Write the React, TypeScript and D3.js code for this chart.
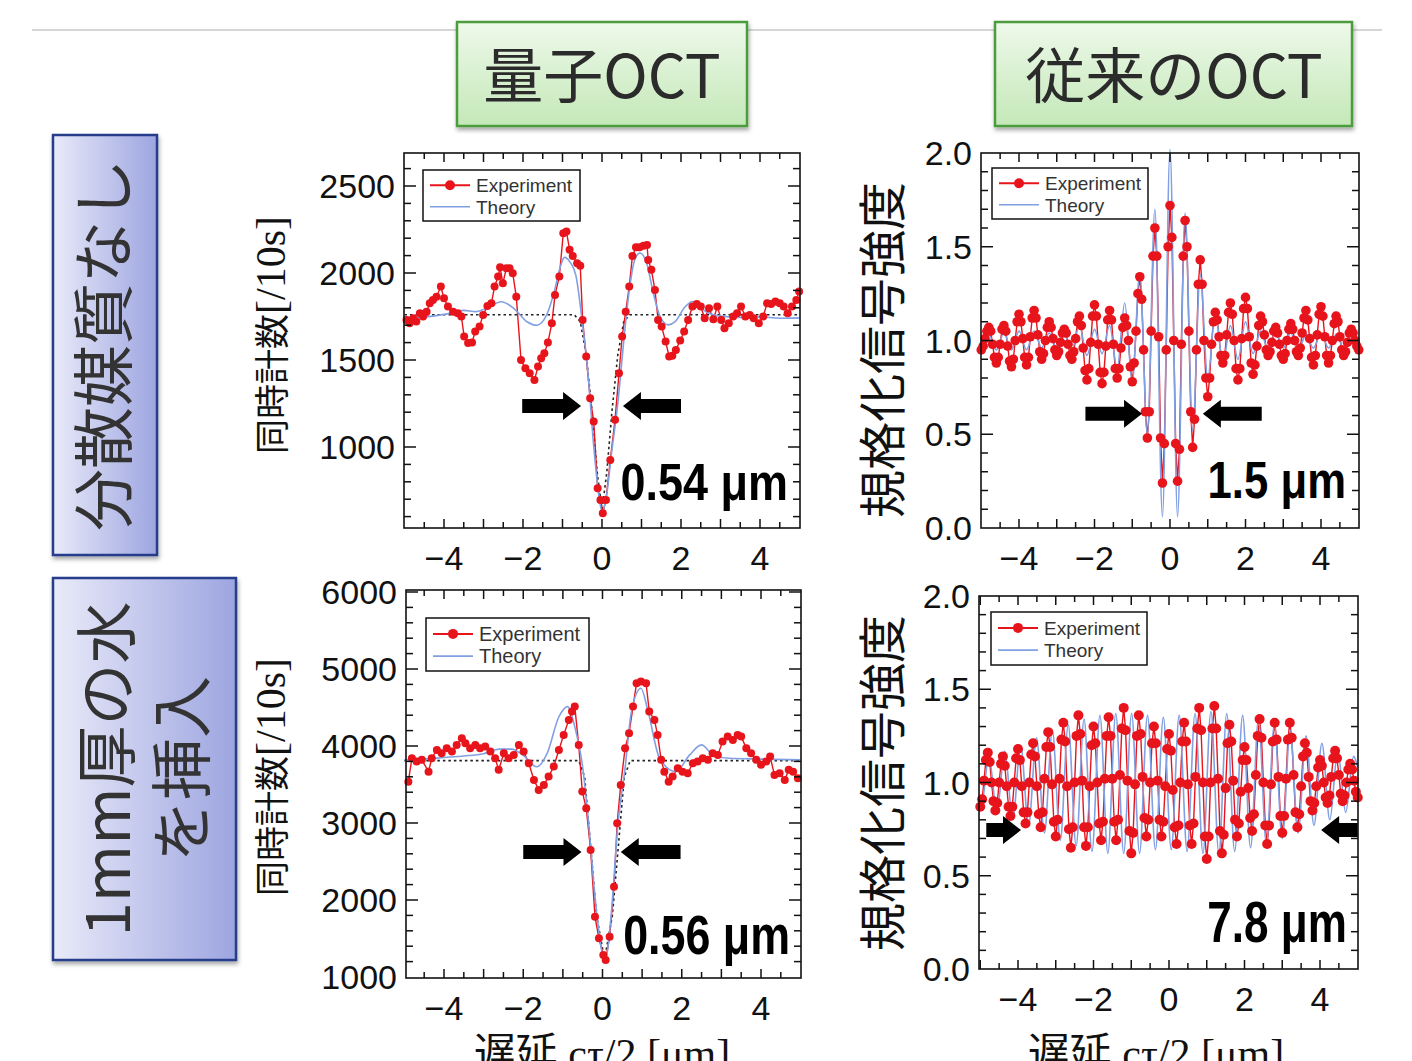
import * as d3 from 'd3';

type Pt = [number, number];

// ---------------- data ----------------
const delayTicks = [-4, -2, 0, 2, 4];
const countTicksDry = [1000, 1500, 2000, 2500];
const countTicksWater = [1000, 2000, 3000, 4000, 5000, 6000];
const normTicks = [0, 0.5, 1.0, 1.5, 2.0];
const fwhmLabels = ['0.54 μm', '1.5 μm', '0.56 μm', '7.8 μm'];
const columnTitles = ['量子OCT', '従来のOCT'];
const rowTitles = [['分散媒質なし'], ['1mm厚の水', 'を挿入']];
const legendLabels = ['Experiment', 'Theory'];

// quantum OCT, no dispersion (coincidence counts / 10 s)
const quantumExpDry: Pt[] = [
  [-4.95,1730],[-4.87,1711],[-4.78,1740],[-4.70,1721],[-4.61,1769],[-4.53,1750],[-4.44,1778],[-4.36,1826],
  [-4.28,1845],[-4.19,1864],[-4.08,1922],[-4.00,1855],[-3.90,1807],[-3.77,1778],[-3.65,1769],[-3.56,1750],
  [-3.49,1635],[-3.39,1597],[-3.29,1601],[-3.21,1664],[-3.10,1693],[-3.01,1759],[-2.90,1811],[-2.80,1826],
  [-2.72,1922],[-2.63,1980],[-2.58,2033],[-2.51,1941],[-2.42,2028],[-2.34,2028],[-2.26,1999],[-2.17,1864],
  [-2.05,1500],[-1.94,1452],[-1.83,1424],[-1.71,1385],[-1.62,1462],[-1.54,1510],[-1.46,1539],[-1.37,1600],
  [-1.27,1711],[-1.19,1874],[-1.08,1980],[-0.98,2229],[-0.90,2238],[-0.82,2133],[-0.74,2098],[-0.63,2056],
  [-0.55,2041],[-0.49,1730],[-0.40,1520],[-0.30,1280],[-0.21,1146],[-0.11,763],[-0.04,696],[0.02,619],
  [0.10,696],[0.21,926],[0.33,1156],[0.43,1424],[0.51,1635],[0.60,1778],[0.69,1922],[0.77,2098],
  [0.86,2148],[0.95,2148],[1.05,2156],[1.14,2161],[1.17,2075],[1.25,2018],[1.34,1903],[1.42,1730],
  [1.51,1692],[1.61,1606],[1.70,1520],[1.78,1524],[1.87,1558],[1.98,1612],[2.08,1664],[2.18,1730],
  [2.29,1807],[2.40,1822],[2.50,1807],[2.60,1740],[2.71,1797],[2.82,1734],[2.92,1807],[3.02,1730],
  [3.10,1682],[3.21,1711],[3.32,1750],[3.42,1769],[3.52,1807],[3.63,1750],[3.74,1759],[3.84,1740],
  [3.97,1711],[4.08,1750],[4.18,1826],[4.28,1822],[4.39,1836],[4.50,1826],[4.60,1807],[4.70,1769],
  [4.81,1807],[4.92,1845],[4.99,1893],
];
const quantumTheoryDry: Pt[] = [
  [-5,1745],[-4.5,1748],[-4,1762],[-3.5,1785],[-3.2,1778],[-2.9,1800],[-2.55,1835],[-2.2,1790],[-1.9,1720],
  [-1.65,1700],[-1.4,1760],[-1.2,1900],[-1.05,2040],[-0.95,2090],[-0.8,2060],[-0.66,1985],[-0.5,1720],
  [-0.37,1460],[-0.2,980],[-0.08,720],[0,630],[0.1,700],[0.25,980],[0.4,1250],[0.53,1560],[0.66,1845],
  [0.83,2077],[0.96,2115],[1.13,2057],[1.3,1885],[1.47,1750],[1.68,1702],[1.85,1720],[2.1,1805],[2.3,1836],
  [2.55,1790],[2.9,1755],[3.5,1745],[4,1748],[4.5,1740],[5,1742],
];
const quantumBaseDry: Pt[] = [
  [-5,1760],[-0.7,1760],[-0.55,1720],[-0.4,1530],[-0.25,1200],[-0.12,850],[0,640],
  [0.12,850],[0.25,1200],[0.4,1530],[0.55,1720],[0.7,1760],[5,1760],
];

// conventional OCT, no dispersion (normalised signal)
const classicExpDry: Pt[] = [
  [-5.00,0.95],[-4.95,0.97],[-4.90,1.01],[-4.85,1.05],[-4.80,1.07],[-4.75,1.05],[-4.70,0.98],[-4.65,0.91],
  [-4.60,0.88],[-4.55,0.91],[-4.50,0.98],[-4.45,1.06],[-4.40,1.08],[-4.35,1.05],[-4.30,0.97],[-4.25,0.89],
  [-4.20,0.86],[-4.15,0.90],[-4.10,1.00],[-4.05,1.10],[-4.00,1.14],[-3.95,1.10],[-3.90,1.01],[-3.85,0.91],
  [-3.80,0.87],[-3.75,0.91],[-3.70,1.02],[-3.65,1.12],[-3.60,1.16],[-3.55,1.12],[-3.50,1.03],[-3.45,0.94],
  [-3.40,0.90],[-3.35,0.93],[-3.30,1.00],[-3.25,1.07],[-3.20,1.10],[-3.15,1.07],[-3.10,1.01],[-3.05,0.95],
  [-3.00,0.92],[-2.95,0.94],[-2.90,0.99],[-2.85,1.04],[-2.80,1.06],[-2.75,1.04],[-2.70,0.98],[-2.65,0.92],
  [-2.60,0.90],[-2.55,0.94],[-2.50,1.01],[-2.45,1.10],[-2.40,1.13],[-2.35,1.08],[-2.30,0.96],[-2.25,0.84],
  [-2.20,0.79],[-2.15,0.85],[-2.10,0.99],[-2.05,1.13],[-2.00,1.19],[-1.95,1.13],[-1.90,0.98],[-1.85,0.83],
  [-1.80,0.77],[-1.75,0.83],[-1.70,0.97],[-1.65,1.11],[-1.60,1.16],[-1.55,1.11],[-1.50,0.98],[-1.45,0.85],
  [-1.40,0.80],[-1.35,0.85],[-1.30,0.96],[-1.25,1.07],[-1.20,1.12],[-1.15,1.08],[-1.10,1.00],[-1.05,0.86],
  [-1.00,0.78],[-0.95,0.88],[-0.90,1.05],[-0.85,1.25],[-0.80,1.34],[-0.75,1.22],[-0.70,0.95],[-0.65,0.62],
  [-0.60,0.48],[-0.55,0.62],[-0.50,1.05],[-0.45,1.45],[-0.40,1.60],[-0.35,1.45],[-0.30,1.02],[-0.25,0.48],
  [-0.20,0.24],[-0.15,0.45],[-0.10,0.95],[-0.05,1.50],[0.00,1.72],[0.05,1.55],[0.10,1.00],[0.15,0.45],
  [0.20,0.25],[0.25,0.42],[0.30,0.98],[0.35,1.45],[0.40,1.64],[0.45,1.50],[0.50,1.05],[0.55,0.62],
  [0.60,0.43],[0.65,0.58],[0.70,0.95],[0.75,1.30],[0.80,1.43],[0.85,1.30],[0.90,1.00],[0.95,0.80],
  [1.00,0.70],[1.05,0.80],[1.10,0.98],[1.15,1.10],[1.20,1.15],[1.25,1.11],[1.30,1.02],[1.35,0.92],
  [1.40,0.88],[1.45,0.92],[1.50,1.03],[1.55,1.15],[1.60,1.20],[1.65,1.14],[1.70,1.00],[1.75,0.85],
  [1.80,0.79],[1.85,0.85],[1.90,1.01],[1.95,1.17],[2.00,1.23],[2.05,1.17],[2.10,1.02],[2.15,0.88],
  [2.20,0.82],[2.25,0.87],[2.30,0.97],[2.35,1.08],[2.40,1.13],[2.45,1.10],[2.50,1.03],[2.55,0.95],
  [2.60,0.92],[2.65,0.94],[2.70,0.99],[2.75,1.05],[2.80,1.07],[2.85,1.04],[2.90,0.98],[2.95,0.92],
  [3.00,0.90],[3.05,0.93],[3.10,1.00],[3.15,1.06],[3.20,1.09],[3.25,1.06],[3.30,1.00],[3.35,0.94],
  [3.40,0.92],[3.45,0.96],[3.50,1.04],[3.55,1.12],[3.60,1.16],[3.65,1.11],[3.70,1.01],[3.75,0.91],
  [3.80,0.87],[3.85,0.92],[3.90,1.03],[3.95,1.14],[4.00,1.18],[4.05,1.13],[4.10,1.02],[4.15,0.92],
  [4.20,0.88],[4.25,0.92],[4.30,1.00],[4.35,1.09],[4.40,1.13],[4.45,1.10],[4.50,1.02],[4.55,0.95],
  [4.60,0.92],[4.65,0.94],[4.70,0.99],[4.75,1.04],[4.80,1.06],[4.85,1.04],[4.90,1.00],[4.95,0.97],
  [5.00,0.95],
];
const classicTheoryDry: Pt[] = [
  [-5.0,0.96],[-4.8,1.03],[-4.6,0.95],[-4.4,1.04],[-4.2,0.95],[-4.0,1.05],[-3.8,0.95],[-3.6,1.05],[-3.4,0.96],
  [-3.2,1.04],[-3.0,0.96],[-2.8,1.03],[-2.6,0.95],[-2.4,1.08],[-2.2,0.92],[-2.0,1.06],[-1.8,0.93],[-1.6,1.08],
  [-1.4,0.85],[-1.2,1.20],[-1.0,0.78],[-0.8,1.36],[-0.6,0.50],[-0.4,1.70],[-0.2,0.06],[0.0,2.02],[0.2,0.06],
  [0.4,1.68],[0.6,0.52],[0.8,1.35],[1.0,0.80],[1.2,1.15],[1.4,0.88],[1.6,1.08],[1.8,0.90],[2.0,1.10],
  [2.2,0.93],[2.4,1.05],[2.6,0.95],[2.8,1.04],[3.0,0.96],[3.2,1.04],[3.4,0.95],[3.6,1.03],[3.8,0.96],
  [4.0,1.04],[4.2,0.96],[4.4,1.03],[4.6,0.96],[4.8,1.03],[5.0,0.97],
];

// quantum OCT, 1 mm water
const quantumExpWater: Pt[] = [
  [-4.90,3537],[-4.81,3841],[-4.69,3798],[-4.56,3820],[-4.39,3667],[-4.31,3841],[-4.18,3949],[-4.06,3906],
  [-3.93,3971],[-3.80,3928],[-3.68,4014],[-3.55,4100],[-3.46,4036],[-3.34,3971],[-3.21,4014],[-3.09,3971],
  [-2.96,3993],[-2.83,3928],[-2.71,3841],[-2.62,3690],[-2.49,3906],[-2.37,3841],[-2.24,3884],[-2.11,4014],
  [-1.99,3928],[-1.86,3776],[-1.73,3560],[-1.61,3430],[-1.48,3495],[-1.36,3603],[-1.23,3733],[-1.10,3949],
  [-0.98,4144],[-0.85,4339],[-0.77,4447],[-0.70,4512],[-0.60,4014],[-0.51,3408],[-0.41,3192],[-0.30,2650],
  [-0.19,1784],[-0.09,1502],[0.02,1286],[0.08,1221],[0.18,1524],[0.29,2173],[0.37,2996],[0.46,3495],
  [0.57,3971],[0.67,4166],[0.77,4512],[0.86,4816],[0.97,4837],[1.10,4816],[1.18,4447],[1.31,4339],
  [1.39,4144],[1.48,3820],[1.56,3667],[1.67,3537],[1.77,3603],[1.90,3711],[2.02,3667],[2.15,3646],
  [2.28,3776],[2.40,3798],[2.53,3841],[2.66,3820],[2.78,3906],[2.91,3884],[3.03,4057],[3.16,4122],
  [3.29,4079],[3.41,4144],[3.50,4122],[3.63,3971],[3.75,3906],[3.88,3820],[4.00,3755],[4.13,3798],
  [4.23,3863],[4.34,3625],[4.47,3646],[4.60,3560],[4.70,3690],[4.81,3667],[4.93,3581],
];
const quantumTheoryWater: Pt[] = [
  [-5,3820],[-4.5,3830],[-4,3850],[-3.5,3870],[-3,3900],[-2.6,3960],[-2.3,3960],[-2.0,3880],[-1.66,3730],
  [-1.4,3900],[-1.1,4380],[-0.88,4512],[-0.7,4250],[-0.52,3800],[-0.35,3000],[-0.2,2100],[0,1300],[0.08,1220],
  [0.2,1700],[0.4,3040],[0.56,3667],[0.73,4447],[0.97,4750],[1.15,4450],[1.44,3841],[1.85,3667],[2.2,3884],
  [2.5,4014],[2.8,3880],[3.2,3840],[4,3830],[5,3820],
];
const quantumBaseWater: Pt[] = [
  [-5,3810],[-0.6,3810],[-0.45,3600],[-0.3,2700],[-0.15,1800],[0.05,1230],
  [0.25,1800],[0.4,2700],[0.55,3600],[0.7,3810],[5,3810],
];

// conventional OCT, 1 mm water
const classicExpWater: Pt[] = [
  [-5.00,0.87],[-4.95,0.91],[-4.90,1.01],[-4.85,1.12],[-4.80,1.16],[-4.75,1.11],[-4.70,1.00],[-4.65,0.90],
  [-4.60,0.85],[-4.55,0.89],[-4.50,1.00],[-4.45,1.10],[-4.40,1.14],[-4.35,1.09],[-4.30,0.98],[-4.25,0.87],
  [-4.20,0.82],[-4.15,0.87],[-4.10,1.00],[-4.05,1.13],[-4.00,1.18],[-3.95,1.12],[-3.90,0.98],[-3.85,0.84],
  [-3.80,0.78],[-3.75,0.84],[-3.70,1.00],[-3.65,1.15],[-3.60,1.21],[-3.55,1.14],[-3.50,0.98],[-3.45,0.83],
  [-3.40,0.76],[-3.35,0.84],[-3.30,1.02],[-3.25,1.19],[-3.20,1.27],[-3.15,1.19],[-3.10,0.99],[-3.05,0.79],
  [-3.00,0.71],[-2.95,0.80],[-2.90,1.02],[-2.85,1.23],[-2.80,1.32],[-2.75,1.22],[-2.70,0.98],[-2.65,0.75],
  [-2.60,0.65],[-2.55,0.76],[-2.50,1.00],[-2.45,1.25],[-2.40,1.36],[-2.35,1.26],[-2.30,1.01],[-2.25,0.76],
  [-2.20,0.66],[-2.15,0.76],[-2.10,0.98],[-2.05,1.20],[-2.00,1.30],[-1.95,1.21],[-1.90,1.00],[-1.85,0.78],
  [-1.80,0.69],[-1.75,0.79],[-1.70,1.02],[-1.65,1.25],[-1.60,1.35],[-1.55,1.25],[-1.50,1.02],[-1.45,0.79],
  [-1.40,0.69],[-1.35,0.80],[-1.30,1.04],[-1.25,1.29],[-1.20,1.40],[-1.15,1.28],[-1.10,1.01],[-1.05,0.74],
  [-1.00,0.62],[-0.95,0.73],[-0.90,0.99],[-0.85,1.25],[-0.80,1.36],[-0.75,1.26],[-0.70,1.03],[-0.65,0.81],
  [-0.60,0.71],[-0.55,0.80],[-0.50,1.00],[-0.45,1.21],[-0.40,1.30],[-0.35,1.21],[-0.30,1.01],[-0.25,0.80],
  [-0.20,0.71],[-0.15,0.79],[-0.10,0.98],[-0.05,1.18],[0.00,1.26],[0.05,1.17],[0.10,0.96],[0.15,0.76],
  [0.20,0.67],[0.25,0.77],[0.30,1.00],[0.35,1.22],[0.40,1.32],[0.45,1.22],[0.50,0.99],[0.55,0.77],
  [0.60,0.67],[0.65,0.78],[0.70,1.03],[0.75,1.29],[0.80,1.40],[0.85,1.28],[0.90,1.00],[0.95,0.71],
  [1.00,0.59],[1.05,0.71],[1.10,1.00],[1.15,1.29],[1.20,1.41],[1.25,1.29],[1.30,1.02],[1.35,0.74],
  [1.40,0.62],[1.45,0.72],[1.50,0.97],[1.55,1.21],[1.60,1.31],[1.65,1.22],[1.70,1.01],[1.75,0.80],
  [1.80,0.71],[1.85,0.78],[1.90,0.95],[1.95,1.12],[2.00,1.19],[2.05,1.12],[2.10,0.97],[2.15,0.81],
  [2.20,0.74],[2.25,0.83],[2.30,1.04],[2.35,1.25],[2.40,1.34],[2.45,1.24],[2.50,1.00],[2.55,0.77],
  [2.60,0.67],[2.65,0.77],[2.70,0.99],[2.75,1.22],[2.80,1.32],[2.85,1.23],[2.90,1.03],[2.95,0.82],
  [3.00,0.73],[3.05,0.82],[3.10,1.02],[3.15,1.23],[3.20,1.32],[3.25,1.24],[3.30,1.04],[3.35,0.84],
  [3.40,0.76],[3.45,0.83],[3.50,0.98],[3.55,1.14],[3.60,1.21],[3.65,1.16],[3.70,1.03],[3.75,0.90],
  [3.80,0.85],[3.85,0.89],[3.90,0.98],[3.95,1.08],[4.00,1.12],[4.05,1.09],[4.10,1.00],[4.15,0.92],
  [4.20,0.89],[4.25,0.93],[4.30,1.03],[4.35,1.13],[4.40,1.17],[4.45,1.13],[4.50,1.04],[4.55,0.94],
  [4.60,0.90],[4.65,0.93],[4.70,1.00],[4.75,1.07],[4.80,1.10],[4.85,1.07],[4.90,1.01],[4.95,0.95],
  [5.00,0.92],
];
const classicTheoryWater: Pt[] = [
  [-5.0,0.88],[-4.98,0.86],[-4.77,1.14],[-4.56,0.84],[-4.35,1.17],[-4.14,0.80],[-3.93,1.20],[-3.72,0.77],
  [-3.51,1.24],[-3.30,0.73],[-3.09,1.28],[-2.88,0.69],[-2.67,1.31],[-2.46,0.66],[-2.25,1.34],[-2.04,0.63],
  [-1.83,1.36],[-1.62,0.62],[-1.41,1.37],[-1.20,0.62],[-0.99,1.37],[-0.78,0.62],[-0.57,1.36],[-0.36,0.64],
  [-0.15,1.35],[0.06,0.64],[0.27,1.36],[0.48,0.63],[0.69,1.37],[0.90,0.62],[1.11,1.38],[1.32,0.62],
  [1.53,1.37],[1.74,0.63],[1.95,1.36],[2.16,0.65],[2.37,1.34],[2.58,0.67],[2.79,1.31],[3.00,0.70],
  [3.21,1.28],[3.42,0.73],[3.63,1.25],[3.84,0.77],[4.05,1.21],[4.26,0.80],[4.47,1.17],[4.68,0.84],
  [4.89,1.14],[5.0,1.08],
];

// ---------------- layout ----------------
const RED = '#e8141c';
const BLUE = '#819fe3';
const CJK = '"Noto Sans CJK JP", sans-serif';
const SANS = '"Liberation Sans", Arial, sans-serif';
const SERIF = '"Liberation Serif", "Times New Roman", serif';

interface PanelCfg {
  frame: [number, number, number, number];
  xRange: [number, number];
  yDomain: [number, number];
  yRange: [number, number];
  yMinor: number;
  yMajor: number;
  yLabels: number[];
  yFmt: (v: number) => string;
  exp: Pt[];
  theory: Pt[];
  base?: Pt[];
  r: number;
  arrowY: number;
  arrowR: [number, number];
  arrowL: [number, number];
  legend: [number, number, number, number, number];
  label: string;
  labelPos: [number, number, number, number];
}

const fmtInt = d3.format('d');
const fmt1 = d3.format('.1f');

const panels: PanelCfg[] = [
  {
    frame: [404, 153, 800, 528], xRange: [444, 760], yDomain: [1000, 2500], yRange: [447, 186],
    yMinor: 100, yMajor: 500, yLabels: countTicksDry, yFmt: fmtInt,
    exp: quantumExpDry, theory: quantumTheoryDry, base: quantumBaseDry, r: 4,
    arrowY: 1236, arrowR: [-2.02, -0.53], arrowL: [0.53, 2.0],
    legend: [423, 170, 157, 51, 19], label: fwhmLabels[0], labelPos: [788, 500, 52, 0.865],
  },
  {
    frame: [981, 153, 1359, 528], xRange: [1019, 1321], yDomain: [0, 2], yRange: [528, 153],
    yMinor: 0.1, yMajor: 0.5, yLabels: normTicks, yFmt: fmt1,
    exp: classicExpDry, theory: classicTheoryDry, r: 4.8,
    arrowY: 0.61, arrowR: [-2.24, -0.74], arrowL: [0.87, 2.43],
    legend: [992, 168, 156, 51, 19], label: fwhmLabels[1], labelPos: [1346, 498, 52, 0.84],
  },
  {
    frame: [406, 590, 801, 978], xRange: [444, 761], yDomain: [1000, 6000], yRange: [977, 592],
    yMinor: 200, yMajor: 1000, yLabels: countTicksWater, yFmt: fmtInt,
    exp: quantumExpWater, theory: quantumTheoryWater, base: quantumBaseWater, r: 4,
    arrowY: 2624, arrowR: [-2.0, -0.53], arrowL: [0.46, 1.97],
    legend: [426, 618, 163, 53, 20], label: fwhmLabels[2], labelPos: [790, 954, 56, 0.8],
  },
  {
    frame: [979, 596, 1358, 969], xRange: [1018, 1320], yDomain: [0, 2], yRange: [969, 596],
    yMinor: 0.1, yMajor: 0.5, yLabels: normTicks, yFmt: fmt1,
    exp: classicExpWater, theory: classicTheoryWater, r: 5,
    arrowY: 0.745, arrowR: [-4.84, -3.92], arrowL: [4.03, 5.0],
    legend: [991, 612, 156, 53, 19], label: fwhmLabels[3], labelPos: [1347, 942, 58, 0.76],
  },
];

function arrowPath(x0: number, x1: number, yc: number, dir: 1 | -1) {
  const h = 7, H = 14, L = 18;
  if (dir === 1) {
    return `M${x0},${yc - h}L${x1 - L},${yc - h}L${x1 - L},${yc - H}L${x1},${yc}L${x1 - L},${yc + H}L${x1 - L},${yc + h}L${x0},${yc + h}Z`;
  }
  return `M${x1},${yc - h}L${x0 + L},${yc - h}L${x0 + L},${yc - H}L${x0},${yc}L${x0 + L},${yc + H}L${x0 + L},${yc + h}L${x1},${yc + h}Z`;
}

function Panel({ cfg }: { cfg: PanelCfg }) {
  const [left, top, right, bottom] = cfg.frame;
  const x = d3.scaleLinear().domain([-4, 4]).range(cfg.xRange);
  const y = d3.scaleLinear().domain(cfg.yDomain).range(cfg.yRange);
  const straight = d3.line<Pt>().x(d => x(d[0])).y(d => y(d[1]));
  const smooth = d3.line<Pt>().x(d => x(d[0])).y(d => y(d[1])).curve(d3.curveMonotoneX);

  const isMult = (v: number, s: number) => Math.abs(v / s - Math.round(v / s)) < 1e-6;
  const xTicks = d3.range(-5, 5.001, 0.5).filter(v => x(v) > left + 1 && x(v) < right - 1);
  const lo = y.invert(bottom), hi = y.invert(top);
  const yTicks = d3.range(Math.ceil(lo / cfg.yMinor - 1e-9) * cfg.yMinor, hi, cfg.yMinor)
    .filter(v => y(v) < bottom - 1 && y(v) > top + 1);

  const [lx, ly, lw, lh, lfs] = cfg.legend;
  const row1 = ly + lh * 0.3, row2 = ly + lh * 0.72;
  const [tx, ty, tfs, tsx] = cfg.labelPos;
  const ay = y(cfg.arrowY);

  return (
    <g>
      <rect x={left} y={top} width={right - left} height={bottom - top} fill="#fff" />
      {cfg.base && (
        <path d={straight(cfg.base) ?? ''} fill="none" stroke="#222" strokeWidth={1.6} strokeDasharray="2.5,3" />
      )}
      <path d={straight(cfg.exp) ?? ''} fill="none" stroke={RED} strokeWidth={1.4} />
      <path d={smooth(cfg.theory) ?? ''} fill="none" stroke={BLUE} strokeWidth={1.6} />
      {cfg.exp.map((d, i) => (
        <circle key={i} cx={x(d[0])} cy={y(d[1])} r={cfg.r} fill={RED} />
      ))}

      <path d={arrowPath(x(cfg.arrowR[0]), x(cfg.arrowR[1]), ay, 1)} fill="#000" />
      <path d={arrowPath(x(cfg.arrowL[0]), x(cfg.arrowL[1]), ay, -1)} fill="#000" />

      <rect x={left} y={top} width={right - left} height={bottom - top} fill="none" stroke="#111" strokeWidth={1.6} />
      {xTicks.map(v => {
        const len = isMult(v, 1) ? 9 : 6;
        return (
          <g key={`x${v}`} stroke="#111" strokeWidth={1.5}>
            <line x1={x(v)} x2={x(v)} y1={bottom} y2={bottom - len} />
            <line x1={x(v)} x2={x(v)} y1={top} y2={top + len} />
          </g>
        );
      })}
      {yTicks.map(v => {
        const len = isMult(v, cfg.yMajor) ? 12 : 7;
        return (
          <g key={`y${v}`} stroke="#111" strokeWidth={1.5}>
            <line x1={left} x2={left + len} y1={y(v)} y2={y(v)} />
            <line x1={right} x2={right - len} y1={y(v)} y2={y(v)} />
          </g>
        );
      })}
      {delayTicks.map(v => (
        <text key={`xl${v}`} x={x(v)} y={bottom + 30} dy="0.36em" textAnchor="middle"
          fontFamily={SANS} fontSize={34} fill="#111">
          {v < 0 ? `\u2212${Math.abs(v)}` : `${v}`}
        </text>
      ))}
      {cfg.yLabels.map(v => (
        <text key={`yl${v}`} x={left - 9} y={y(v)} dy="0.36em" textAnchor="end"
          fontFamily={SANS} fontSize={34} fill="#111">
          {cfg.yFmt(v)}
        </text>
      ))}

      <rect x={lx} y={ly} width={lw} height={lh} fill="#fff" stroke="#111" strokeWidth={1.5} />
      <line x1={lx + 7} x2={lx + 47} y1={row1} y2={row1} stroke={RED} strokeWidth={2} />
      <circle cx={lx + 27} cy={row1} r={5} fill={RED} />
      <line x1={lx + 7} x2={lx + 47} y1={row2} y2={row2} stroke={BLUE} strokeWidth={1.6} />
      <text x={lx + 53} y={row1} dy="0.36em" fontFamily={SANS} fontSize={lfs} fill="#333">{legendLabels[0]}</text>
      <text x={lx + 53} y={row2} dy="0.36em" fontFamily={SANS} fontSize={lfs} fill="#333">{legendLabels[1]}</text>

      <text transform={`translate(${tx},${ty}) scale(${tsx},1)`} textAnchor="end"
        fontFamily={SANS} fontWeight="bold" fontSize={tfs} fill="#000">
        {cfg.label}
      </text>
    </g>
  );
}

export default function App() {
  return (
    <svg width={1412} height={1061} viewBox="0 0 1412 1061"
      style={{ position: 'absolute', left: 0, top: 0, background: '#fff' }}>
      <defs>
        <linearGradient id="greenFill" x1="0" y1="0" x2="0" y2="1">
          <stop offset="0" stopColor="#eef9ea" />
          <stop offset="1" stopColor="#c4e8b8" />
        </linearGradient>
        <linearGradient id="blueFill" x1="0" y1="0" x2="1" y2="0">
          <stop offset="0" stopColor="#e9eaf9" />
          <stop offset="1" stopColor="#9da5e0" />
        </linearGradient>
        <filter id="shadow" x="-10%" y="-10%" width="130%" height="130%">
          <feDropShadow dx={1} dy={3} stdDeviation={2} floodColor="#000" floodOpacity={0.35} />
        </filter>
      </defs>
      <rect width={1412} height={1061} fill="#fff" />
      <line x1={32} x2={1382} y1={30} y2={30} stroke="#c8c8c8" strokeWidth={1.5} />

      {/* column headers */}
      <rect x={457} y={22} width={290} height={104} fill="url(#greenFill)" stroke="#4c9c3e" strokeWidth={2.5} filter="url(#shadow)" />
      <text x={602} y={76} dy="0.36em" textAnchor="middle" fontFamily={CJK} fontSize={60} fill="#2b2b2b">{columnTitles[0]}</text>
      <rect x={995} y={22} width={357} height={104} fill="url(#greenFill)" stroke="#4c9c3e" strokeWidth={2.5} filter="url(#shadow)" />
      <text x={1174} y={76} dy="0.36em" textAnchor="middle" fontFamily={CJK} fontSize={60} fill="#2b2b2b">{columnTitles[1]}</text>

      {/* row headers */}
      <rect x={53} y={135} width={104} height={420} fill="url(#blueFill)" stroke="#263d8c" strokeWidth={2.5} filter="url(#shadow)" />
      <text transform="translate(105,345) rotate(-90)" dy="0.36em" textAnchor="middle" fontFamily={CJK} fontSize={62} fill="#333">
        {rowTitles[0][0]}
      </text>
      <rect x={53} y={578} width={183} height={382} fill="url(#blueFill)" stroke="#263d8c" strokeWidth={2.5} filter="url(#shadow)" />
      <text transform="translate(108,769) rotate(-90)" dy="0.36em" textAnchor="middle" fontFamily={CJK} fontSize={62} fill="#333">
        {rowTitles[1][0]}
      </text>
      <text transform="translate(183,769) rotate(-90)" dy="0.36em" textAnchor="middle" fontFamily={CJK} fontSize={62} fill="#333">
        {rowTitles[1][1]}
      </text>

      {panels.map((p, i) => <Panel key={i} cfg={p} />)}

      {/* axis titles */}
      {[335, 777].map(cy => (
        <text key={`qy${cy}`} transform={`translate(272,${cy}) rotate(-90)`} dy="0.36em" textAnchor="middle"
          fontFamily={CJK} fontSize={35} fill="#111">
          同時計数<tspan fontFamily={SERIF} fontSize={42}>[/10s]</tspan>
        </text>
      ))}
      {[350, 783].map(cy => (
        <text key={`cy${cy}`} transform={`translate(883,${cy}) rotate(-90)`} dy="0.36em" textAnchor="middle"
          fontFamily={CJK} fontSize={48} fill="#111">
          規格化信号強度
        </text>
      ))}
      {[602, 1156].map(cx => (
        <text key={`xt${cx}`} x={cx} y={1068} textAnchor="middle" fontFamily={CJK} fontSize={42} fill="#111">
          遅延<tspan fontFamily={SERIF}> cτ/2 [μm]</tspan>
        </text>
      ))}
    </svg>
  );
}
